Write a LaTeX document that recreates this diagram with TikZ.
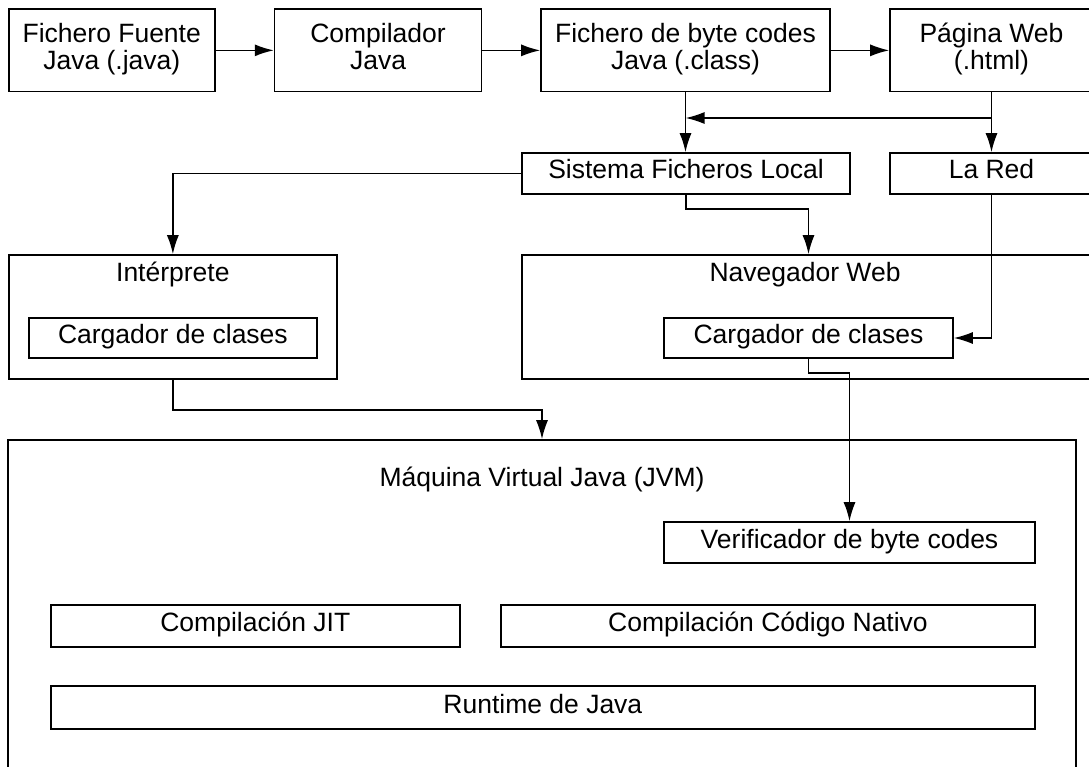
\documentclass[tikz,border=0pt]{standalone}
\usepackage{fontspec}
\setmainfont{Liberation Sans}
\usetikzlibrary{arrows.meta}
\newcommand\dfont{\fontsize{26.5}{27}\selectfont}
\begin{document}
\begin{tikzpicture}[x=1pt,y=-1pt,
  box/.style={draw, line width=1.6pt, inner sep=0pt, font=\dfont},
  twoline/.style={box, align=center, minimum height=82.7pt},
  oneline/.style={box, text height=19pt, text depth=8pt},
  title/.style={inner sep=0pt, font=\dfont, anchor=base},
  arr/.style={line width=1.6pt, -{Latex[length=19pt,width=12pt]}}]
\useasboundingbox (0,0) rectangle (1089,767);
\clip (0,0) rectangle (1089,767);
\fill[white] (0,0) rectangle (1089,767);
% top row
\node[twoline, minimum width=206.1pt] (f1) at (111.75,50.35) {Fichero Fuente\\Java (.java)\strut};
\node[twoline, minimum width=206.8pt] (f2) at (378,50.35) {Compilador\\Java\strut};
\node[twoline, minimum width=289pt] (f3) at (685.5,50.35) {Fichero de byte codes\\Java (.class)\strut};
\node[twoline, minimum width=203pt] (f4) at (991.5,50.35) {Página Web\\(.html)\strut};
% second row
\node[oneline, minimum width=328pt, minimum height=41pt] (sfl) at (686,173.5) {Sistema Ficheros Local};
\node[oneline, minimum width=203pt, minimum height=41pt] (red) at (991.5,173.5) {La Red};
% interpreter and browser
\node[box, minimum width=328.3pt, minimum height=124pt] (interp) at (172.85,317) {};
\node[title] (tinterp) at (172.85,282) {Intérprete};
\node[oneline, minimum width=288.2pt, minimum height=40pt] (cargL) at (172.9,338) {Cargador de clases};
\node[box, minimum width=570pt, minimum height=124pt] (nav) at (807,317) {};
\node[title] (tnav) at (805,282) {Navegador Web};
\node[oneline, minimum width=289pt, minimum height=40pt] (cargR) at (808.5,338) {Cargador de clases};
% JVM
\node[box, minimum width=1068pt, minimum height=360pt] (jvm) at (542,620) {};
\node[title] (tjvm) at (542,486) {Máquina Virtual Java (JVM)};
\node[oneline, minimum width=371pt, minimum height=41pt] (verif) at (849.5,542.5) {Verificador de byte codes};
\node[oneline, minimum width=409.3pt, minimum height=42pt] (jit) at (255.35,626) {Compilación JIT};
\node[oneline, minimum width=534pt, minimum height=42pt] (nat) at (768,626) {Compilación Código Nativo};
\node[oneline, minimum width=984.3pt, minimum height=43pt] (run) at (542.85,707.5) {Runtime de Java};
% connectors
\draw[arr] (f1.east) -- (f2.west);
\draw[arr] (f2.east) -- (f3.west);
\draw[arr] (f3.east) -- (f4.west);
\draw[arr] (f3.south) -- (f3.south |- sfl.north);
\draw[arr] (f4.south) -- (f4.south |- red.north);
\coordinate (jr) at (991.5,118);
\draw[arr] (jr) -- (jr -| f3.south);
\draw[arr] (sfl.west) -| (interp.north);
\draw[arr] (sfl.south) -- ++(0,14) -| (cargR.north |- nav.north);
\draw[arr] (red.south) |- (cargR.east);
\draw[arr] (interp.south) -- ++(0,30) -| (jvm.north);
\draw[arr] (cargR.south) -- ++(0,14) -| (verif.north);
\end{tikzpicture}
\end{document}
